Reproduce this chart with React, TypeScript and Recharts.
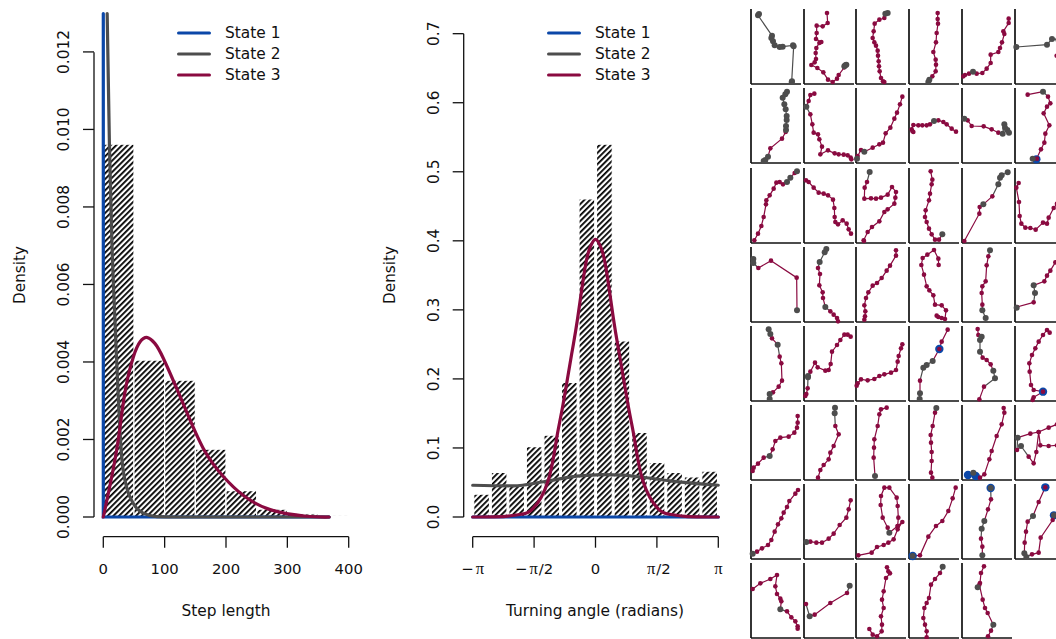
import { ComposedChart, Bar, Line, XAxis, YAxis, Legend } from 'recharts';

const BLUE = '#0b47a8';
const GRAY = '#4d4d4d';
const CRIMSON = '#8a0a40';
const FONT = '"DejaVu Sans", sans-serif';
const stateNames = ['State 1', 'State 2', 'State 3'];
const stateColors = [BLUE, GRAY, CRIMSON];
const curveTypes = ['linear', 'monotone', 'natural'];

// step length histogram + fitted densities
const stepBins = [25, 75, 125, 175, 225, 275, 325, 375];
const stepDensity = [0.00962, 0.00405, 0.00353, 0.00175, 0.00068, 0.0002, 0.00008, 0.00003];
const stepTicks = [0, 100, 200, 300, 400];
const stepYTicks = [0, 0.002, 0.004, 0.006, 0.008, 0.01, 0.012];
const stepState1 = [{ x: 0, y: 0.01299 }, { x: 0, y: 0 }, { x: 368, y: 0 }];
const stepState2 = [
  { x: 6.3, y: 0.01299 }, { x: 10, y: 0.0096 }, { x: 14, y: 0.0071 }, { x: 19, y: 0.00508 }, { x: 21.2, y: 0.00423 },
  { x: 25.6, y: 0.0027 }, { x: 30, y: 0.00155 }, { x: 38, y: 0.00077 }, { x: 49, y: 0.00035 }, { x: 65, y: 0.0001 },
  { x: 87, y: 0.00001 }, { x: 120, y: 0 }, { x: 368, y: 0 },
];
const stepState3 = [
  { x: 0, y: 0 }, { x: 21.7, y: 0.00172 }, { x: 35, y: 0.00319 }, { x: 49, y: 0.00413 }, { x: 60, y: 0.00452 }, { x: 72, y: 0.00463 },
  { x: 84, y: 0.00448 }, { x: 98, y: 0.00409 }, { x: 130, y: 0.00293 }, { x: 163, y: 0.00177 }, { x: 196, y: 0.00104 },
  { x: 228, y: 0.00056 }, { x: 272, y: 0.00019 }, { x: 331, y: 0.00002 }, { x: 368, y: 0 },
];

// turning angle histogram + fitted densities
const angleBins = [-2.917, -2.468, -2.02, -1.571, -1.122, -0.673, -0.224, 0.224, 0.673, 1.122, 1.571, 2.02, 2.468, 2.917];
const angleDensity = [0.033, 0.0645, 0.045, 0.102, 0.1185, 0.195, 0.4606, 0.54, 0.255, 0.1225, 0.079, 0.0645, 0.058, 0.0665];
const angleTicks = [-3.14159, -1.5708, 0, 1.5708, 3.14159];
const angleTickLabels = ['\u2212\u03c0', '\u2212\u03c0/2', '0', '\u03c0/2', '\u03c0'];
const angleYTicks = [0, 0.1, 0.2, 0.3, 0.4, 0.5, 0.6, 0.7];
const angleState1 = [{ x: -3.14159, y: 0 }, { x: 3.14159, y: 0 }];
const angleState2 = [
  { x: -3.14159, y: 0.046 }, { x: -2.1, y: 0.0452 }, { x: -1.33, y: 0.051 }, { x: -0.48, y: 0.0592 }, { x: 0.2, y: 0.0615 },
  { x: 0.71, y: 0.0606 }, { x: 1.31, y: 0.0568 }, { x: 1.9, y: 0.0524 }, { x: 3.14159, y: 0.046 },
];
const angleState3 = [
  { x: -3.14159, y: 0 }, { x: -2.3, y: 0.001 }, { x: -1.9, y: 0.004 }, { x: -1.6, y: 0.012 }, { x: -1.21, y: 0.053 },
  { x: -1, y: 0.112 }, { x: -0.84, y: 0.16 }, { x: -0.61, y: 0.236 }, { x: -0.465, y: 0.285 }, { x: -0.27, y: 0.36 },
  { x: -0.14, y: 0.39 }, { x: 0, y: 0.402 }, { x: 0.14, y: 0.39 }, { x: 0.27, y: 0.36 }, { x: 0.465, y: 0.285 },
  { x: 0.61, y: 0.236 }, { x: 0.84, y: 0.16 }, { x: 1, y: 0.112 }, { x: 1.21, y: 0.053 }, { x: 1.6, y: 0.012 },
  { x: 1.9, y: 0.004 }, { x: 2.3, y: 0.001 }, { x: 3.14159, y: 0 },
];

// tracks, one per small panel: [easting, northing, state]; state 3 when left out
type Pt = number[];
const tracks: Pt[][] = [
  [[24,210,2],[21,206,2],[63,145,2],[61,138,2],[66,128,2],[71,116,2],[86,111,2],[95,112,2],[126,116,2],[128,113,2],[122,6,2],[123,8,2]],
  [[69,213],[71,183],[56,173],[38,175],[38,153],[36,135],[52,126],[46,123],[37,108],[35,93],[36,75],[32,65],[22,57],[40,48],[58,35],[72,13],[86,6],[99,16],[104,27],[121,50],[124,56,2],[121,53,2],[127,58,2]],
  [[95,213,2],[88,211,2],[85,198],[70,193],[56,181],[53,158],[50,138],[55,125],[60,115],[65,100],[66,85],[68,68],[69,53],[71,38],[75,18],[81,8],[85,6]],
  [[86,213],[86,195],[87,181],[83,153],[81,125],[73,96],[80,73],[81,58],[80,38],[70,23],[61,13,2],[58,6,2]],
  [[140,196],[140,183],[124,158],[127,150],[120,125],[114,108],[109,96],[86,88],[86,63],[74,46],[61,33],[44,31],[33,37,2],[21,31],[9,27],[4,23]],
  [[4,111,2],[96,118,2],[111,135,2],[130,133,2],[125,85]],

  [[108,214,2],[103,206,2],[95,196,2],[100,176,2],[104,161,2],[107,141,2],[107,129,2],[105,111,2],[105,99,2],[104,93],[93,73],[58,44],[51,19,2],[43,9,2],[38,6,2]],
  [[31,208],[19,204],[14,186],[7,169,2],[19,146],[25,116],[29,91],[42,86],[46,71],[54,49],[49,26],[72,38],[92,29],[104,26],[119,25],[131,23],[140,16],[142,11]],
  [[139,199],[132,176],[123,151],[115,133],[103,106],[89,89],[81,61],[70,56],[50,46],[25,34,2],[15,39],[5,21],[3,13,2]],
  [[141,94],[128,103],[113,116],[103,123],[88,128],[75,126,2],[63,116],[53,113],[40,113],[28,113],[13,114],[8,101],[13,93],[10,96]],
  [[7,133,2],[17,128],[29,111],[65,110],[89,101],[109,91],[122,88,2],[127,116,2],[129,106,2],[136,99,2],[141,91,2]],
  [[38,205],[84,214,2],[99,199],[106,179],[96,169],[86,149],[103,113],[91,88],[88,61],[78,41],[64,11,1],[66,13],[53,13,2]],

  [[138,215,2],[131,210],[118,196,2],[108,183,2],[96,176],[86,183],[76,181],[68,163],[56,143],[46,128],[45,116],[38,78],[31,51],[21,28],[10,8]],
  [[6,188],[14,183],[29,166],[44,151],[59,148],[72,143],[87,130],[91,105],[92,78],[94,63],[102,56],[116,68],[128,58],[134,41],[141,28]],
  [[41,213,2],[33,183],[26,166],[25,133],[45,134],[60,133],[75,136],[95,145],[108,168],[120,153],[118,136],[115,118],[95,101],[85,93],[70,65],[48,48],[35,33],[23,8],[24,6]],
  [[65,215],[70,190],[68,176],[63,148],[60,128],[50,98],[48,78],[53,63],[60,43],[68,26],[78,10],[90,10],[100,26,2]],
  [[137,212,2],[119,203,2],[114,196,2],[109,176,2],[91,140],[64,116,2],[53,108],[52,88],[7,6]],
  [[11,180],[4,166],[12,123],[14,81],[19,58],[31,46],[46,45],[62,40],[84,61],[96,58],[101,76],[116,105],[126,118]],

  [[7,189,2],[7,177,2],[22,162],[60,184],[137,133],[138,35,2]],
  [[67,219,2],[62,209,2],[47,180,2],[42,162],[48,144],[46,110],[56,89],[57,72],[64,45,2],[79,32],[89,22],[99,12],[102,2]],
  [[120,215],[120,199],[102,169],[92,154],[77,132],[63,117],[50,109],[37,89],[30,72],[25,50],[28,32],[27,17],[25,7]],
  [[89,171],[88,190],[75,216],[55,202],[41,192],[37,171],[45,142],[53,107],[61,95],[73,80],[78,52],[98,50],[111,35],[108,9],[98,12],[83,19],[88,15]],
  [[84,215,2],[79,197],[74,170],[71,122],[61,107],[59,87],[61,52],[61,35,2],[71,12,2]],
  [[121,179],[106,154],[96,139],[88,122],[56,110,2],[60,87,2],[56,59],[6,45],[5,43,2]],

  [[53,215,2],[58,201,2],[63,188],[80,169,2],[86,133],[91,113],[93,61],[83,43],[66,26],[56,21,2],[56,6,2]],
  [[140,193],[131,199],[121,199],[109,183],[99,168],[84,148],[80,111],[74,93],[64,91],[41,101],[33,115],[19,88],[12,75,2],[12,71,2],[11,38],[7,21],[4,15]],
  [[139,170],[135,158],[128,135],[125,118],[120,93],[105,85],[85,80],[70,75],[55,66],[35,62],[15,65],[5,53],[2,46]],
  [[116,214],[98,178],[91,156,1],[91,156],[71,120,2],[53,108,2],[43,100,2],[33,61],[33,23,2],[32,6,2]],
  [[47,216],[49,198],[59,193,2],[54,183,2],[54,148,2],[62,130],[74,123],[86,110],[94,91,2],[99,68,2],[66,43],[52,5]],
  [[104,205],[96,213],[84,198],[71,178],[61,158],[51,138],[43,113],[44,88],[48,48],[56,33],[84,28,1],[84,28],[56,11],[53,3]],

  [[140,192],[140,172],[138,157],[130,142],[113,130],[88,127],[73,117],[65,92],[56,72,2],[38,67],[21,49],[8,37],[5,27]],
  [[93,217,2],[92,200,2],[94,162],[104,137],[89,102],[79,82],[74,62],[59,45],[49,30],[42,7]],
  [[92,217],[75,212],[70,197],[65,162],[55,122],[54,97],[53,67],[57,12,2]],
  [[82,216,2],[78,202],[71,162],[65,135],[66,112],[68,84],[68,57],[66,22],[70,7]],
  [[125,216],[127,202],[119,167],[104,132],[89,87],[82,62],[67,17],[54,7],[41,12,1],[18,15,1],[34,22,2]],
  [[126,167],[101,157],[71,144],[46,139],[8,127,2],[6,90],[18,102,2],[41,70],[56,50],[64,84],[71,144],[76,104],[101,102],[126,104]],

  [[141,207],[133,196],[115,174],[108,156],[98,139],[91,122],[81,104],[71,82],[61,57],[51,42],[33,32],[18,22],[5,16,2]],
  [[140,176],[134,149],[127,124],[107,102],[89,76],[74,61],[54,49],[37,49],[19,52],[7,51,2]],
  [[7,11],[47,19],[63,36],[83,42],[97,49],[113,59],[125,89],[139,111],[125,99],[100,79,2],[95,94],[80,124],[74,162],[75,189],[85,214],[100,214],[122,184],[125,159],[127,124],[125,99]],
  [[140,214],[131,182],[118,144],[100,114],[81,99],[58,67],[33,11],[11,9,1],[11,9,2]],
  [[86,213,1],[86,213,2],[87,179],[78,149],[67,114,2],[59,91,2],[57,61],[61,37],[61,11,2]],
  [[91,215,1],[91,215],[71,171],[54,129,2],[38,112],[33,82],[29,49],[28,17,2],[34,6,2],[51,14],[71,19],[77,64],[113,117],[117,131,1],[117,131,2]],

  [[5,147],[28,164],[58,177],[78,189],[73,155],[78,132],[88,118],[91,110],[88,86,2],[108,80],[121,62],[133,50],[140,35],[140,28]],
  [[137,157,2],[129,135],[79,105],[32,70],[17,65,2],[6,102]],
  [[93,212],[97,200],[102,194],[90,180],[83,140],[78,115],[83,90],[75,65],[78,40],[77,20],[63,5],[50,10],[40,27]],
  [[101,214,2],[93,195],[78,177],[66,160],[60,120],[53,105],[46,90],[43,60],[48,40],[53,20],[53,2]],
  [[66,215],[57,195],[54,165],[47,152,2],[52,160],[62,115],[69,90],[77,75],[94,40,2],[87,22],[78,5]],
];

const stepRows = stepBins.map((x, i) => ({ x, density: stepDensity[i] }));
const angleRows = angleBins.map((x, i) => ({ x, density: angleDensity[i] }));

const StateLegend = () => (
  <div style={{ fontFamily: FONT, fontSize: 15.4, color: '#111' }}>
    {stateNames.map((name, i) => (
      <div key={name} style={{ display: 'flex', alignItems: 'center', height: 21 }}>
        <svg width={34} height={4} style={{ marginRight: 14 }}>
          <line x1={1.5} y1={2} x2={32.5} y2={2} stroke={stateColors[i]} strokeWidth={3} strokeLinecap="round" />
        </svg>
        <span style={{ position: 'relative', top: 0.5 }}>{name}</span>
      </div>
    ))}
  </div>
);

const YTick = ({ x, y, payload, digits }: any) => (
  <text
    x={x - 12}
    y={y}
    transform={`rotate(-90, ${x - 12}, ${y})`}
    textAnchor="middle"
    fontFamily={FONT}
    fontSize={15.4}
    fill="#111"
  >
    {payload.value.toFixed(digits)}
  </text>
);

// pi in a serif face, as the plot's expression labels have it
const XTick = ({ x, y, payload, labels, index }: any) => {
  const label = String(labels ? labels[index] : payload.value);
  return (
    <text x={x} y={y + 24} textAnchor="middle" fontFamily={FONT} fontSize={14.8} fill="#111">
      {label.split(/(\u03c0)/).map((part, i) =>
        part === '\u03c0' ? (
          <tspan key={i} fontFamily='"Liberation Serif", serif' fontSize={16.5} dx={label.length > 1 ? 2 : 0}>
            {part}
          </tspan>
        ) : (
          <tspan key={i} dx={i > 0 ? 1 : 0}>{part}</tspan>
        ),
      )}
    </text>
  );
};

function HistPanel(props: any) {
  const { left, right, yWidth, rows, barSize, xDomain, xTicks, xLabels, yDomain, yTicks, digits, curves, padX, xDash, yDash, title, titleX, hatchId } = props;
  const margin = { top: 12, right, bottom: 0, left: 0 };
  const yPad = { top: 0, bottom: 19.7 };
  return (
    <div style={{ position: 'absolute', left, top: 0, width: 370, height: 639 }}>
      <div style={{ position: 'absolute', left: 0, top: 0 }}>
        <ComposedChart width={370} height={639} data={rows} margin={margin}>
          <defs>
            <pattern id={hatchId} patternUnits="userSpaceOnUse" width="4" height="4" patternTransform="rotate(45)">
              <rect width="4" height="4" fill="#fff" />
              <rect width="1.8" height="4" fill="#000" />
            </pattern>
          </defs>
          <XAxis
            type="number"
            dataKey="x"
            domain={xDomain}
            ticks={xTicks}
            interval={0}
            height={102.3}
            padding={padX}
            tickSize={11}
            tickMargin={2}
            axisLine={{ stroke: '#111', strokeWidth: 1.3, strokeDasharray: xDash }}
            tickLine={{ stroke: '#111', strokeWidth: 1.3 }}
            tick={<XTick labels={xLabels} />}
          />
          <YAxis
            type="number"
            domain={yDomain}
            ticks={yTicks}
            interval={0}
            width={yWidth}
            padding={yPad}
            tickSize={11}
            tickMargin={2}
            axisLine={{ stroke: '#111', strokeWidth: 1.3, strokeDasharray: yDash }}
            tickLine={{ stroke: '#111', strokeWidth: 1.3 }}
            tick={<YTick digits={digits} />}
          />
          <Bar dataKey="density" barSize={barSize} fill={`url(#${hatchId})`} stroke="#fff" strokeWidth={1.2} isAnimationActive={false} legendType="none" />
          <text x={titleX} y={615.5} textAnchor="middle" fontFamily={FONT} fontSize={15.4} fill="#111">
            {title}
          </text>
          <text x={25} y={275} transform="rotate(-90, 25, 275)" textAnchor="middle" fontFamily={FONT} fontSize={15.2} fill="#111">
            Density
          </text>
        </ComposedChart>
      </div>
      {/* curves sit in their own chart on the same scales: their dense x values would squeeze the bars to nothing */}
      <div style={{ position: 'absolute', left: 0, top: 0 }}>
        <ComposedChart width={370} height={639} margin={margin}>
          <XAxis type="number" dataKey="x" domain={xDomain} height={102.3} padding={padX} tick={false} tickLine={false} axisLine={false} />
          <YAxis type="number" domain={yDomain} width={yWidth} padding={yPad} tick={false} tickLine={false} axisLine={false} />
          {curves.map((curve: any, i: number) => (
            <Line
              key={stateNames[i]}
              data={curve}
              dataKey="y"
              name={stateNames[i]}
              type={curveTypes[i] as any}
              stroke={stateColors[i]}
              strokeWidth={3.2}
              strokeLinecap="round"
              dot={false}
              activeDot={false}
              isAnimationActive={false}
            />
          ))}
          <Legend
            layout="vertical"
            align="center"
            verticalAlign="middle"
            content={<StateLegend />}
            wrapperStyle={{ left: 177, top: 22, width: 130 }}
          />
        </ComposedChart>
      </div>
    </div>
  );
}

const CELL_W = 50;
const CELL_H = 75;
const COL_STEP = 52.8;
const ROW_STEP = 79.14;

function toRuns(track: Pt[]) {
  const runs: { s: number; data: { x: number; y: number }[] }[] = [];
  track.forEach(([x, y, s = 3]) => {
    const last = runs[runs.length - 1];
    if (last) last.data.push({ x, y });
    if (!last || last.s !== s) runs.push({ s, data: [{ x, y }] });
  });
  return runs.filter((r) => r.data.length > 1);
}

const dotRadius = [4.2, 3, 2.3];

function TrackCell({ track, index }: { track: Pt[]; index: number }) {
  const col = index % 6;
  const row = Math.floor(index / 6);
  const runs = toRuns(track);
  const blue = track.filter((p) => p[2] === 1).map(([x, y]) => ({ x, y }));
  return (
    <div style={{ position: 'absolute', left: 750.7 + col * COL_STEP - 5, top: 84.3 + row * ROW_STEP - CELL_H - 4 }}>
      <ComposedChart width={CELL_W + 10} height={CELL_H + 8} margin={{ top: 4, right: 5, bottom: 3, left: 4 }}>
        <XAxis type="number" dataKey="x" domain={[0, 150]} height={1} tick={false} tickLine={false} axisLine={{ stroke: '#111', strokeWidth: 1.7 }} />
        <YAxis type="number" domain={[0, 225]} width={1} tick={false} tickLine={false} axisLine={{ stroke: '#111', strokeWidth: 1.7 }} />
        {blue.length > 0 && (
          <Line
            data={blue}
            dataKey="y"
            stroke="none"
            dot={{ r: dotRadius[0], fill: BLUE, stroke: 'none' }}
            activeDot={false}
            isAnimationActive={false}
          />
        )}
        {runs.map((run, i) => (
          <Line
            key={i}
            data={run.data}
            dataKey="y"
            type="linear"
            stroke={stateColors[run.s - 1]}
            strokeWidth={1.2}
            dot={false}
            activeDot={false}
            isAnimationActive={false}
          />
        ))}
        {[3, 2].map((s) => (
          <Line
            key={`dots-${s}`}
            data={track.filter((p) => (p[2] ?? 3) === s).map(([x, y]) => ({ x, y }))}
            dataKey="y"
            stroke="none"
            dot={{ r: dotRadius[s - 1], fill: stateColors[s - 1], stroke: 'none' }}
            activeDot={false}
            isAnimationActive={false}
          />
        ))}
      </ComposedChart>
    </div>
  );
}

export default function App() {
  return (
    <div style={{ position: 'absolute', left: 0, top: 0, width: 1056, height: 639, overflow: 'hidden', background: '#fff' }}>
      <HistPanel
        left={0}
        right={21.3}
        yWidth={94}
        rows={stepRows}
        barSize={30.67}
        xDomain={[0, 400]}
        xTicks={stepTicks}
        yDomain={[0, 0.01303]}
        yTicks={stepYTicks}
        digits={3}
        curves={[stepState1, stepState2, stepState3]}
        padX={{ left: 9.3, right: 0 }}
        xDash="0 9.3 245.4 9999"
        yDash="0 40.3 464.7 9999"
        title="Step length"
        titleX={226}
        hatchId="hatchStep"
      />
      <HistPanel
        left={370}
        right={21.7}
        yWidth={93.7}
        rows={angleRows}
        barSize={17.54}
        xDomain={[-3.14159, 3.14159]}
        xTicks={angleTicks}
        xLabels={angleTickLabels}
        yDomain={[0, 0.7314]}
        yTicks={angleYTicks}
        digits={1}
        curves={[angleState1, angleState2, angleState3]}
        padX={{ left: 9, right: 0 }}
        xDash="0 9 245.6 9999"
        yDash="0 21.7 483.3 9999"
        title="Turning angle (radians)"
        titleX={225}
        hatchId="hatchAngle"
      />
      {tracks.map((track, i) => (
        <TrackCell key={i} track={track} index={i} />
      ))}
    </div>
  );
}
